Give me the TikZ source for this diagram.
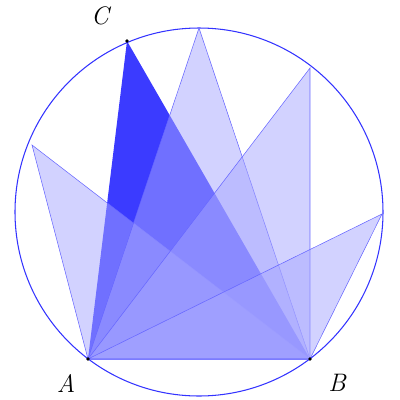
\documentclass[tikz,border=0pt]{standalone}
\begin{document}
\begin{tikzpicture}[x=0.02cm,y=-0.02cm,
  tri/.style={draw=blue!60,line width=0.3pt,fill=blue!35,fill opacity=0.5},
  lab/.style={font=\Large\itshape}]
\useasboundingbox (0,0) rectangle (400,400);
\coordinate (O) at (199,212);
\coordinate (A) at (88,359);
\coordinate (B) at (310,359);
\coordinate (C) at (127,41);
\coordinate (P1) at (32,145);
\coordinate (P2) at (199,28);
\coordinate (P3) at (310,68);
\coordinate (P4) at (382,214);
\draw[blue!80,line width=0.6pt] (O) circle [radius=184];
\fill[blue!90,fill opacity=0.85] (A) -- (B) -- (C) -- cycle;
\foreach \p in {P1,P2,P3,P4} \filldraw[tri] (A) -- (B) -- (\p) -- cycle;
\fill (A) circle (1.8) (B) circle (1.8) (C) circle (1.8);
\node[lab] (la) at (66,383) {A};
\node[lab] (lb) at (337,383) {B};
\node[lab] (lc) at (100,16) {C};
\end{tikzpicture}
\end{document}
